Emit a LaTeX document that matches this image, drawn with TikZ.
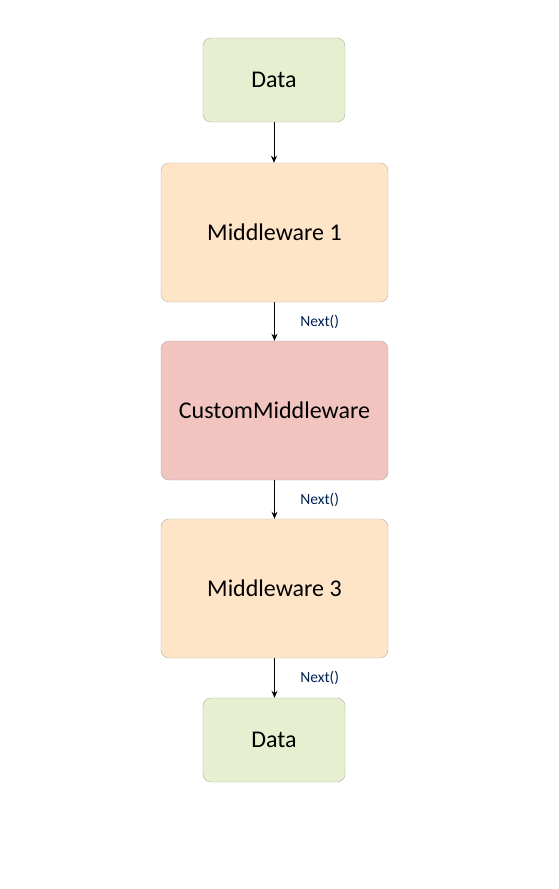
\documentclass[tikz,border=0pt]{standalone}
\usepackage{fontspec}
\setmainfont{Carlito}
\usetikzlibrary{arrows.meta}
\definecolor{datagreen}{HTML}{E6EFCF}
\definecolor{mworange}{HTML}{FFE5C8}
\definecolor{mwred}{HTML}{F2C4C0}
\definecolor{boxline}{HTML}{B0B0A8}
\definecolor{nextblue}{RGB}{0,34,80}
\begin{document}
\begin{tikzpicture}[x=1pt,y=-1pt,
		data_style/.style={rectangle,rounded corners=8pt,draw=boxline,fill=datagreen,minimum width=142pt,minimum height=84pt,font=\fontsize{24}{27}\selectfont},
		mw_style/.style={rectangle,rounded corners=8pt,draw=boxline,fill=mworange,minimum width=227pt,minimum height=139pt,font=\fontsize{24}{27}\selectfont},
		custom_style/.style={mw_style,fill=mwred},
		edge_style/.style={draw=black,line width=0.9pt,-{Stealth[length=7pt,width=6pt]}},
		label_style/.style={right,xshift=22pt,text=nextblue,font=\fontsize{15.5}{17}\selectfont}]
		
		\useasboundingbox (0,0) rectangle (558,889);
		
		\node[data_style] (d0) at (274,80)  {Data};
		\node[mw_style] (m1) at (274.5,232.5)  {Middleware 1};
		\node[custom_style] (cm) at (274.5,410.5)  {CustomMiddleware};
		\node[mw_style] (m3) at (274.5,588.5)  {Middleware 3};
		\node[data_style] (d1) at (274,740)  {Data};
		
		\draw[edge_style]  (d0.south) -- (d0.south |- m1.north);
		\draw[edge_style]  (m1.south) -- node[label_style]{Next()} (m1.south |- cm.north);
		\draw[edge_style]  (cm.south) -- node[label_style]{Next()} (cm.south |- m3.north);
		\draw[edge_style]  (m3.south) -- node[label_style]{Next()} (m3.south |- d1.north);

\end{tikzpicture}
\end{document}
